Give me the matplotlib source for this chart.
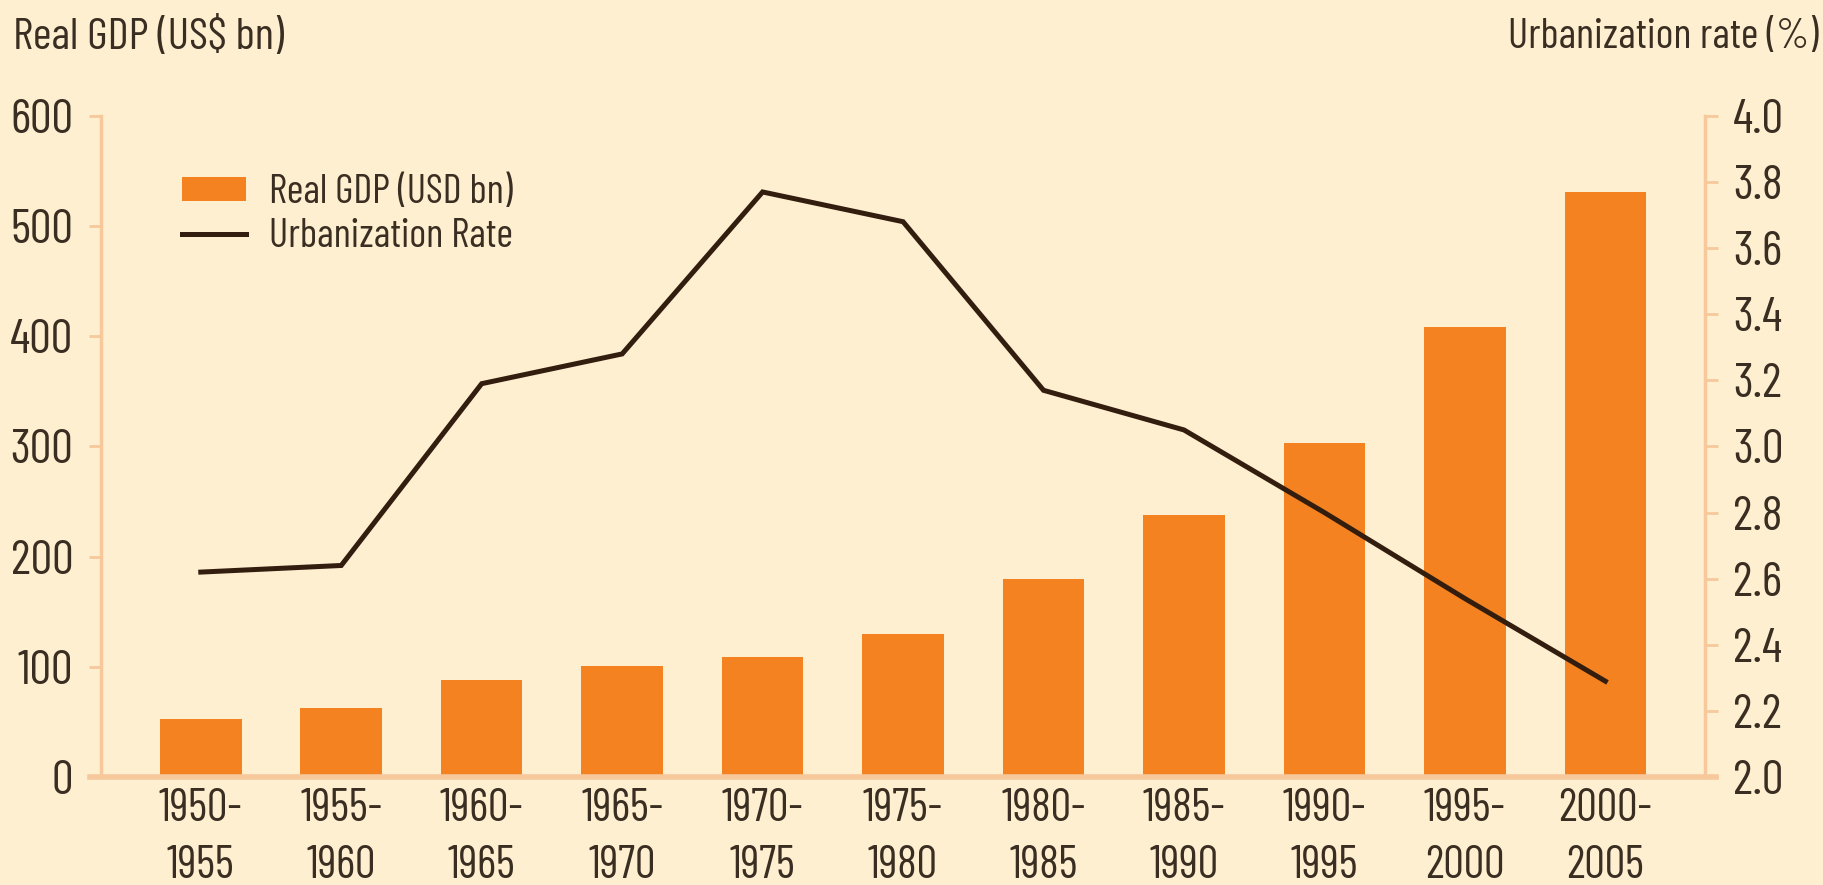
import matplotlib
matplotlib.use("Agg")
import matplotlib.pyplot as plt
import numpy as np

# Datos: PIB real y tasa de urbanización por quinquenio
periods = ["1950-\n1955", "1955-\n1960", "1960-\n1965", "1965-\n1970", "1970-\n1975",
           "1975-\n1980", "1980-\n1985", "1985-\n1990", "1990-\n1995", "1995-\n2000",
           "2000-\n2005"]
gdp = [53, 63, 88, 101, 109, 130, 180, 238, 303, 408, 531]
urban_rate = [2.62, 2.64, 3.19, 3.28, 3.77, 3.68, 3.17, 3.05, 2.80, 2.54, 2.29]
gdp_ticks = [0, 100, 200, 300, 400, 500, 600]
rate_ticks = [2.0, 2.2, 2.4, 2.6, 2.8, 3.0, 3.2, 3.4, 3.6, 3.8, 4.0]

bg = "#fdefd0"
bar_col = "#f58220"
line_col = "#331d0e"
spine_col = "#f6c89c"
txt_col = "#3a2e22"

# fuente condensada, con respaldo si no está
plt.rcParams["font.family"] = ["Barlow Condensed", "DejaVu Sans"]

fig = plt.figure(figsize=(18.24, 8.85), dpi=100, facecolor=bg)
ax = fig.add_axes([0.0554, 0.122, 0.8794, 0.747])
ax.set_facecolor(bg)
ax2 = ax.twinx()

x = np.arange(len(periods))
bars = ax.bar(x, gdp, width=0.58, color=bar_col, label="Real GDP (USD bn)", zorder=2)
line, = ax2.plot(x, urban_rate, color=line_col, lw=3.6, label="Urbanization Rate",
                 solid_joinstyle="miter")

ax.set_xlim(-0.71, len(periods) - 1 + 0.71)
ax.set_ylim(0, 600)
ax2.set_ylim(2.0, 4.0)
ax.set_yticks(gdp_ticks)
ax.set_yticklabels([str(v) for v in gdp_ticks])
ax2.set_yticks(rate_ticks)
ax2.set_yticklabels([f"{v:.1f}" for v in rate_ticks])
ax.set_xticks(x)
ax.set_xticklabels(periods, linespacing=1.45)

for a in (ax, ax2):
    for s in a.spines.values():
        s.set_visible(False)
ax.spines["left"].set_visible(True)
ax.spines["left"].set_color(spine_col)
ax.spines["left"].set_linewidth(2.5)
ax.spines["bottom"].set_visible(True)
ax.spines["bottom"].set_color(spine_col)
ax.spines["bottom"].set_linewidth(4)
ax.spines["bottom"].set_bounds(-0.79, len(periods) - 1 + 0.79)
ax2.spines["right"].set_visible(True)
ax2.spines["right"].set_color(spine_col)
ax2.spines["right"].set_linewidth(2.5)

ax.tick_params(axis="y", length=9, width=2, color=spine_col, pad=11,
               labelsize=35, labelcolor=txt_col)
ax2.tick_params(axis="y", length=9, width=2, color=spine_col, pad=11,
                labelsize=35, labelcolor=txt_col)
ax.tick_params(axis="x", length=0, pad=8, labelsize=33, labelcolor=txt_col)

fig.text(0.007, 0.958, "Real GDP (US$ bn)", fontsize=32.5, color=txt_col, va="center", ha="left")
fig.text(0.997, 0.958, "Urbanization rate (%)", fontsize=30.5, color=txt_col, va="center", ha="right")

ax2.legend(handles=[bars, line], loc="upper left", bbox_to_anchor=(0.0885, 0.826),
           bbox_transform=fig.transFigure, frameon=False, fontsize=29,
           handlelength=1.61, handleheight=0.55, handletextpad=0.57, labelspacing=0.17,
           borderpad=0, labelcolor=txt_col)

fig.savefig("out.png", dpi=100, facecolor=bg)
